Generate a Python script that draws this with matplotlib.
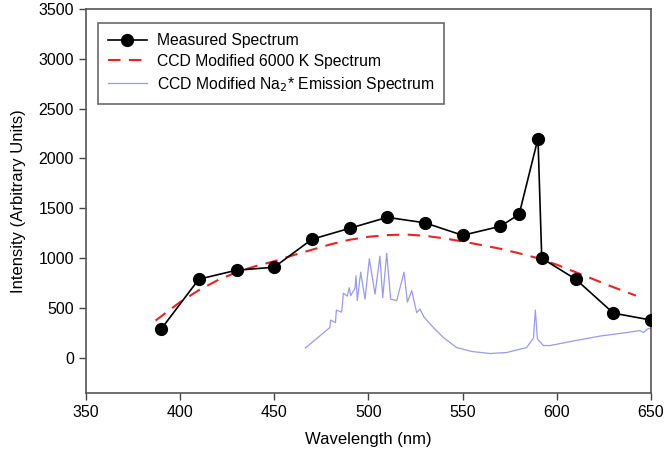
import numpy as np
from matplotlib import pyplot as plt

plt.rcParams['font.family'] = ['Liberation Sans', 'DejaVu Sans']

# measured spectrum (dots)
meas_wl = [390, 410, 430, 450, 470, 490, 510, 530, 550, 570, 580, 590, 592, 610, 630, 650]
meas_int = [290, 790, 880, 910, 1190, 1300, 1410, 1355, 1230, 1320, 1440, 2200, 1000, 790, 450, 380]

# CCD modified 6000 K blackbody (red dashes)
bb_wl = [387, 400, 410, 420, 430, 440, 450, 460, 470, 480, 490, 500, 510, 520, 530, 540,
         550, 560, 570, 580, 590, 600, 610, 620, 630, 642]
bb_int = [375, 560, 680, 780, 860, 920, 970, 1030, 1085, 1140, 1185, 1215, 1232, 1238, 1225, 1200,
          1168, 1132, 1095, 1050, 1000, 935, 860, 785, 710, 625]

# CCD modified Na2* emission (blue)
na_wl = [466.5, 479.5, 480.0, 482.5, 483.0, 485.8, 486.4, 486.7, 488.8, 489.8, 490.6, 492.9,
         493.4, 494.1, 495.9, 498.2, 500.5, 503.5, 506.1, 507.6, 509.7, 511.8, 515.0, 518.9,
         520.7, 523.0, 525.6, 527.4, 529.5, 534.5, 539.8, 546.8, 555, 564.6, 573.4, 584.0,
         587.6, 588.6, 589.7, 592.9, 596.4, 610, 623.0, 635, 644.2, 646, 648, 650]
na_int = [100, 305, 380, 355, 480, 460, 580, 650, 620, 705, 625, 700,
          825, 575, 860, 590, 995, 640, 1020, 605, 1050, 590, 575, 860,
          560, 675, 455, 490, 410, 305, 205, 105, 65, 45, 55, 105,
          200, 480, 190, 125, 125, 175, 220, 250, 275, 255, 290, 300]

fig = plt.figure(figsize=(6.65, 4.65), dpi=100)
ax = fig.add_axes([0.129, 0.155, 0.850, 0.826])

ax.plot(meas_wl, meas_int, color='black', lw=1.2, marker='o', markersize=8.5,
        label='Measured Spectrum', zorder=4)
ax.plot(bb_wl, bb_int, color='#ee2222', lw=1.5, dashes=(6, 4),
        label='CCD Modified 6000 K Spectrum', zorder=3)
ax.plot(na_wl, na_int, color='#9a9aee', lw=0.9,
        label='CCD Modified Na$_2$* Emission Spectrum', zorder=2)

ax.set_xlim(350, 650)
ax.set_ylim(-350, 3500)
ax.set_xticks(np.arange(350, 651, 50))
ax.set_yticks(np.arange(0, 3501, 500))
ax.tick_params(direction='out', length=5, width=1, color='#444444', labelsize=11.5,
               top=False, right=False)
for sp in ax.spines.values():
    sp.set_color('#555555')
    sp.set_linewidth(1.2)

ax.set_xlabel('Wavelength (nm)', fontsize=12, labelpad=9)
ax.set_ylabel('Intensity (Arbitrary Units)', fontsize=12, labelpad=9)

leg = ax.legend(loc='upper left', bbox_to_anchor=(0.021, 0.963), borderaxespad=0,
                fontsize=11.3, frameon=True, fancybox=False, handlelength=2.5,
                borderpad=0.65, labelspacing=0.36, handletextpad=0.6)
leg.get_frame().set_edgecolor('#444444')
leg.get_frame().set_linewidth(1.2)

plt.savefig('out.png', dpi=100)
